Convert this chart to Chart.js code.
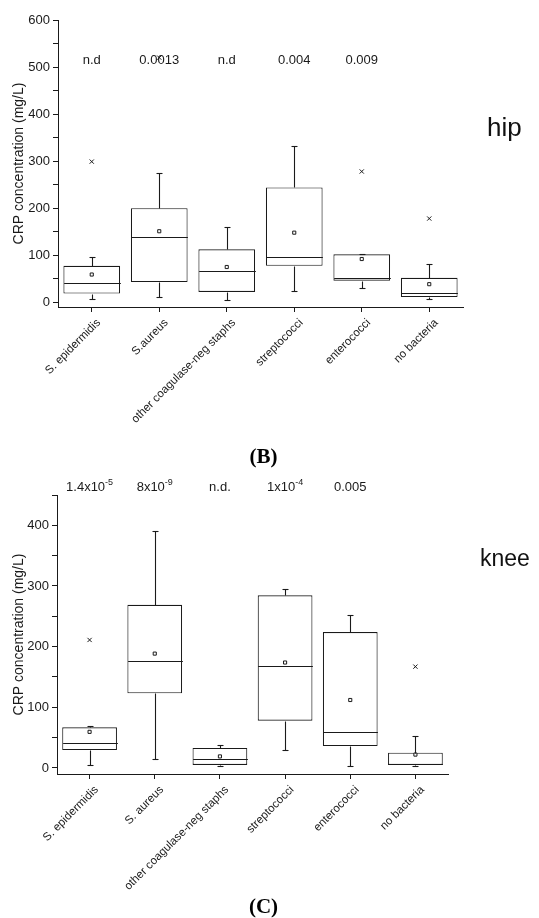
<!DOCTYPE html>
<html>
<head>
<meta charset="utf-8">
<script src="https://cdn.jsdelivr.net/npm/chart.js@4.4.1/dist/chart.umd.min.js"></script>
<style>
  body { margin: 0; background: #fff; width: 539px; height: 918px; position: relative; overflow: hidden; }
  canvas { position: absolute; left: 0; }
  #hip { top: 0; }
  #knee { top: 460px; }
  .joint { position: absolute; color: #111; font-family: 'Liberation Sans', Arial, sans-serif; }
  .fig { position: absolute; left: -6px; width: 539px; text-align: center; color: #000;
         font-family: 'Liberation Serif', 'Times New Roman', serif; font-weight: bold; font-size: 21px; }
</style>
</head>
<body>
<canvas id="hip" width="539" height="450"></canvas>
<canvas id="knee" width="539" height="440"></canvas>
<div class="joint" style="left:487px;top:112px;font-size:26px">hip</div>
<div class="joint" style="left:480px;top:545px;font-size:23px">knee</div>
<div class="fig" style="top:444px">(B)</div>
<div class="fig" style="top:894px">(C)</div>
<script>
'use strict';

/* datos (mg/L) */
const hipLabels = ['S. epidermidis', 'S.aureus', 'other coagulase-neg staphs', 'streptococci', 'enterococci', 'no bacteria'];
const hipMin    = [6, 11, 4, 25, 31, 6];
const hipQ1     = [18.5, 43, 22, 77.6, 46, 11];
const hipMedian = [41, 138, 66, 95.5, 50.6, 20.7];
const hipQ3     = [77.5, 200, 112.6, 244, 102, 52];
const hipMax    = [96, 274, 161, 333, 102, 81];
const hipMean   = [59, 151, 75, 148, 92, 38.5];
const hipOutlier = [299, 520, null, null, 278, 178];
const hipPvals  = ['n.d', '0.0013', 'n.d', '0.004', '0.009', ''];
const hipTicks  = [0, 50, 100, 150, 200, 250, 300, 350, 400, 450, 500, 550, 600];

const kneeLabels = ['S. epidermidis', 'S. aureus', 'other coagulase-neg staphs', 'streptococci', 'enterococci', 'no bacteria'];
const kneeMin    = [5.4, 15, 2.7, 29, 3.8, 3.8];
const kneeQ1     = [29.5, 123, 5, 78, 36, 5];
const kneeMedian = [41, 177, 14.7, 167.7, 59, 6];
const kneeQ3     = [67, 269, 33, 284.6, 224, 25];
const kneeMax    = [69, 390.6, 38, 295.6, 252.5, 53];
const kneeMean   = [59.5, 188.5, 19, 173.8, 112, 22];
const kneeOutlier = [211, null, null, null, null, 167];
const kneePvals  = ['1.4x10^-5', '8x10^-9', 'n.d.', '1x10^-4', '0.005', ''];
const kneeTicks  = [0, 50, 100, 150, 200, 250, 300, 350, 400, 450];

const INK = '#1a1a1a';
const FONT = "'Liberation Sans', Arial, sans-serif";
Chart.defaults.font.family = FONT;
Chart.defaults.color = INK;

/* mediana, bigotes y valores p, dibujados con las escalas del gráfico */
const boxExtras = {
  id: 'boxExtras',
  afterDatasetsDraw(chart, args, o) {
    const { ctx } = chart, y = chart.scales.y;
    const py = v => Math.round(y.getPixelForValue(v)) + 0.5;
    const line = (x1, y1, x2, y2) => { ctx.beginPath(); ctx.moveTo(x1, y1); ctx.lineTo(x2, y2); ctx.stroke(); };
    ctx.save();
    ctx.strokeStyle = INK;
    ctx.lineWidth = 1.1;
    chart.getDatasetMeta(0).data.forEach((bar, i) => {
      const cx = Math.round(bar.x) + 0.5, half = bar.width / 2;
      line(cx - half, py(o.median[i]), cx + half, py(o.median[i]));
      if (o.max[i] > o.q3[i]) { line(cx, py(o.q3[i]), cx, py(o.max[i])); }
      line(cx - 3, py(o.max[i]), cx + 3, py(o.max[i]));
      if (o.min[i] < o.q1[i]) { line(cx, py(o.q1[i]), cx, py(o.min[i])); }
      line(cx - 3, py(o.min[i]), cx + 3, py(o.min[i]));
    });
    ctx.fillStyle = INK;
    ctx.textBaseline = 'middle';
    ctx.textAlign = 'left';
    const ty = y.getPixelForValue(o.pvalAt);
    o.pvals.forEach((t, i) => {
      if (!t) return;
      const [base, sup] = t.split('^');
      ctx.font = '13px ' + FONT;
      const wb = ctx.measureText(base).width;
      ctx.font = '9px ' + FONT;
      const ws = sup ? ctx.measureText(sup).width : 0;
      const x0 = chart.scales.x.getPixelForValue(i) - (wb + ws) / 2;
      ctx.font = '13px ' + FONT;
      ctx.fillText(base, x0, ty);
      if (sup) { ctx.font = '9px ' + FONT; ctx.fillText(sup, x0 + wb, ty - 5); }
    });
    ctx.restore();
  }
};

function boxChart(id, labels, s, { max, ticks, top, right, yWidth, xHeight, pvalAt }) {
  return new Chart(document.getElementById(id), {
    type: 'bar',
    data: {
      labels,
      datasets: [
        { data: s.q1.map((v, i) => [v, s.q3[i]]), backgroundColor: '#fff', borderColor: INK, borderWidth: 1.1,
          borderSkipped: false, barPercentage: 0.84, categoryPercentage: 1, order: 1 },
        { type: 'line', data: s.mean, showLine: false, pointStyle: 'rect', pointRadius: 2.2,
          pointBackgroundColor: '#fff', pointBorderColor: INK, pointBorderWidth: 1, order: 0 },
        { type: 'line', data: s.outlier, showLine: false, pointStyle: 'crossRot', pointRadius: 3,
          pointBorderColor: INK, pointBorderWidth: 1, order: 0 },
      ],
    },
    options: {
      responsive: false, animation: false,
      layout: { padding: { top, right, left: 0, bottom: 0 } },
      plugins: {
        legend: { display: false }, tooltip: { enabled: false },
        boxExtras: { min: s.min, q1: s.q1, median: s.median, q3: s.q3, max: s.max, pvals: s.pvals, pvalAt },
      },
      scales: {
        x: {
          type: 'category', offset: true,
          afterFit: sc => { sc.height = xHeight; },
          grid: { offset: false, drawOnChartArea: false, tickLength: 5, color: INK },
          border: { display: true, color: INK, width: 1 },
          ticks: { autoSkip: false, maxRotation: 45, minRotation: 45, padding: 4, labelOffset: 7,
                   color: INK, font: { size: 11.5 } },
        },
        y: {
          type: 'linear', min: -10, max,
          afterFit: sc => { sc.width = yWidth; },
          afterBuildTicks: sc => { sc.ticks = ticks.map(v => ({ value: v })); },
          grid: { drawOnChartArea: false, tickLength: 5, color: INK },
          border: { display: true, color: INK, width: 1 },
          ticks: { autoSkip: false, padding: 3, color: INK, font: { size: 13 },
                   callback: v => (v % 100 === 0 ? String(v) : '') },
          title: { display: true, text: 'CRP concentration (mg/L)', color: INK, font: { size: 14 }, padding: { top: 11, bottom: 0 } },
        },
      },
    },
    plugins: [boxExtras],
  });
}

boxChart('hip', hipLabels,
  { min: hipMin, q1: hipQ1, median: hipMedian, q3: hipQ3, max: hipMax, mean: hipMean, outlier: hipOutlier, pvals: hipPvals },
  { max: 600, ticks: hipTicks, top: 20, right: 76, yWidth: 58, xHeight: 143, pvalAt: 515 });

boxChart('knee', kneeLabels,
  { min: kneeMin, q1: kneeQ1, median: kneeMedian, q3: kneeQ3, max: kneeMax, mean: kneeMean, outlier: kneeOutlier, pvals: kneePvals },
  { max: 450, ticks: kneeTicks, top: 35, right: 91, yWidth: 57, xHeight: 126, pvalAt: 463 });
</script>
</body>
</html>
